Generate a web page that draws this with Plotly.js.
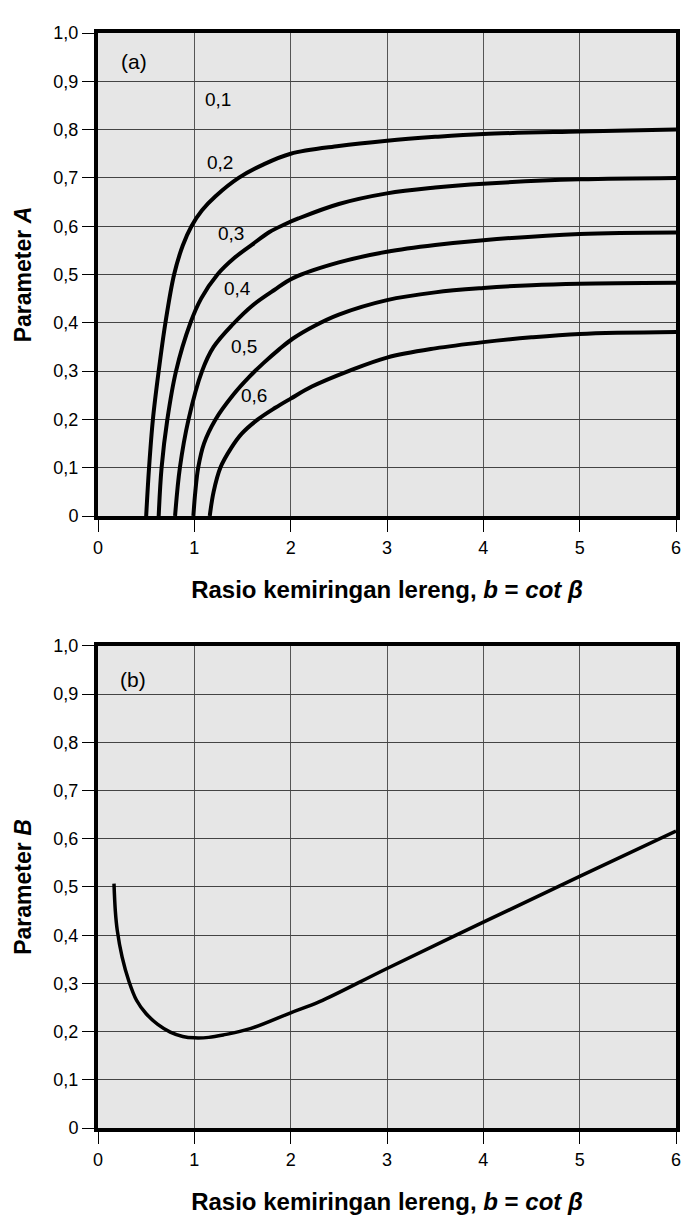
<!DOCTYPE html>
<html><head><meta charset="utf-8">
<script src="https://cdn.plot.ly/plotly-3.0.1.min.js"></script>
<style>html,body{margin:0;padding:0;background:#fff}</style>
</head><body><div id="chart" style="width:683px;height:1217px"></div>
<script>
// ---- Data (panel a: Parameter A vs b = cot beta, one curve per r_u) ----
const curveLabels = ["0,2", "0,3", "0,4", "0,5", "0,6"];
const a02_x = [0.50, 0.53, 0.57, 0.63, 0.70, 0.79, 0.88, 0.97, 1.08, 1.22, 1.46, 1.72, 2.00, 2.50, 3.00, 3.50, 4.00, 5.00, 6.00];
const a02_y = [0.00, 0.10, 0.20, 0.30, 0.40, 0.50, 0.56, 0.60, 0.633, 0.662, 0.700, 0.728, 0.750, 0.766, 0.777, 0.785, 0.791, 0.796, 0.800];
const a03_x = [0.63, 0.66, 0.72, 0.81, 0.96, 1.07, 1.24, 1.42, 1.60, 1.78, 1.94, 2.08, 2.50, 3.00, 3.50, 4.00, 5.00, 6.00];
const a03_y = [0.00, 0.10, 0.20, 0.30, 0.40, 0.45, 0.50, 0.535, 0.562, 0.588, 0.604, 0.616, 0.646, 0.668, 0.680, 0.688, 0.697, 0.700];
const a04_x = [0.80, 0.85, 0.94, 1.08, 1.20, 1.40, 1.61, 1.83, 2.03, 2.50, 3.00, 3.50, 4.00, 5.00, 6.00];
const a04_y = [0.00, 0.10, 0.20, 0.30, 0.35, 0.397, 0.437, 0.468, 0.493, 0.525, 0.547, 0.561, 0.571, 0.584, 0.587];
const a05_x = [0.99, 1.01, 1.04, 1.10, 1.22, 1.40, 1.57, 1.72, 1.88, 2.02, 2.25, 2.50, 3.00, 3.50, 4.00, 4.50, 5.00, 6.00];
const a05_y = [0.00, 0.05, 0.10, 0.15, 0.20, 0.25, 0.288, 0.317, 0.345, 0.367, 0.394, 0.417, 0.447, 0.463, 0.472, 0.478, 0.481, 0.483];
const a06_x = [1.16, 1.20, 1.27, 1.38, 1.49, 1.66, 1.84, 2.00, 2.22, 2.60, 3.00, 3.50, 4.00, 4.50, 5.00, 6.00];
const a06_y = [0.00, 0.05, 0.10, 0.14, 0.17, 0.20, 0.224, 0.243, 0.268, 0.300, 0.328, 0.347, 0.360, 0.370, 0.377, 0.381];
// label anchor points for the curve labels
const labelX = [1.27, 1.38, 1.45, 1.52, 1.62];
const labelY = [0.731, 0.585, 0.470, 0.350, 0.250];

// ---- Data (panel b: Parameter B vs b) ----
const b_x = [0.166, 0.18, 0.20, 0.25, 0.32, 0.40, 0.50, 0.62, 0.75, 0.88, 1.00, 1.15, 1.30, 1.58, 2.00, 2.30, 3.00, 4.00, 5.00, 6.00];
const b_y = [0.507, 0.450, 0.410, 0.355, 0.305, 0.265, 0.237, 0.215, 0.199, 0.190, 0.187, 0.188, 0.193, 0.206, 0.239, 0.262, 0.331, 0.427, 0.522, 0.616];

// ---- Tick labels ----
const xTickVals = [0, 1, 2, 3, 4, 5, 6];
const xTickText = ["0", "1", "2", "3", "4", "5", "6"];
const yTickVals = [0, 0.1, 0.2, 0.3, 0.4, 0.5, 0.6, 0.7, 0.8, 0.9, 1.0];
const yTickText = ["0", "0,1", "0,2", "0,3", "0,4", "0,5", "0,6", "0,7", "0,8", "0,9", "1,0"];

const FONT = "Arial, 'Liberation Sans', sans-serif";
const seriesA = [[a02_x, a02_y], [a03_x, a03_y], [a04_x, a04_y], [a05_x, a05_y], [a06_x, a06_y]];

const traces = seriesA.map((s, i) => ({
  x: s[0], y: s[1], type: 'scatter', mode: 'lines', name: 'r_u = ' + curveLabels[i],
  line: {color: '#000', width: 4, shape: 'spline', smoothing: 1.0},
  xaxis: 'x', yaxis: 'y', showlegend: false
}));
traces.push({
  x: b_x, y: b_y, type: 'scatter', mode: 'lines', name: 'B',
  line: {color: '#000', width: 3.5, shape: 'spline', smoothing: 1.0},
  xaxis: 'x2', yaxis: 'y2', showlegend: false
});

const titleX = '<b>Rasio kemiringan lereng, <i>b</i> = <i>cot β</i></b>';

function xa(anchor) {
  return {
    anchor: anchor, domain: [0, 1], range: [0, 6], tickvals: xTickVals, ticktext: xTickText,
    ticks: 'outside', ticklen: 12, tickwidth: 1, tickcolor: '#000',
    showgrid: true, gridcolor: '#555', gridwidth: 1,
    showline: true, linewidth: 4, linecolor: '#000', mirror: true, zeroline: false,
    tickfont: {family: FONT, size: 18, color: '#000'},
    title: {text: titleX, font: {family: FONT, size: 24, color: '#000'}, standoff: 26},
    fixedrange: true
  };
}
function ya(anchor, dom, txt) {
  return {
    anchor: anchor, domain: dom, range: [0, 1], tickvals: yTickVals, ticktext: yTickText,
    ticks: 'outside', ticklen: 12, tickwidth: 1, tickcolor: '#000',
    showgrid: true, gridcolor: '#444', gridwidth: 1,
    showline: true, linewidth: 4, linecolor: '#000', mirror: true, zeroline: false,
    tickfont: {family: FONT, size: 18, color: '#000'},
    title: {text: txt, font: {family: FONT, size: 23, color: '#000'}, standoff: 16},
    fixedrange: true
  };
}

const annotations = curveLabels.map((t, i) => ({
  x: labelX[i], y: labelY[i], xref: 'x', yref: 'y', text: t, showarrow: false,
  font: {family: FONT, size: 19, color: '#000'}
}));
annotations.push({x: 1.25, y: 0.863, xref: 'x', yref: 'y', text: '0,1', showarrow: false,
  font: {family: FONT, size: 19, color: '#000'}});
annotations.push({x: 1.42, y: 1.04, xref: 'x', yref: 'y', text: 'r<sub>u</sub> = 0', showarrow: false,
  font: {family: FONT, size: 18, color: '#000'}});
annotations.push({x: 0.37, y: 0.94, xref: 'x', yref: 'y', text: '(a)', showarrow: false,
  font: {family: FONT, size: 21, color: '#000'}});
annotations.push({x: 0.36, y: 0.93, xref: 'x2', yref: 'y2', text: '(b)', showarrow: false,
  font: {family: FONT, size: 21, color: '#000'}});

const layout = {
  width: 683, height: 1217,
  margin: {l: 98, r: 7, t: 33, b: 89},
  paper_bgcolor: '#fff', plot_bgcolor: '#e6e6e6',
  font: {family: FONT, color: '#000'},
  xaxis: xa('y'), yaxis: ya('x', [0.5589, 1], '<b>Parameter <i>A</i></b>'),
  xaxis2: xa('y2'), yaxis2: ya('x2', [0, 0.4402], '<b>Parameter <i>B</i></b>'),
  annotations: annotations,
  showlegend: false
};

Plotly.newPlot('chart', traces, layout, {displayModeBar: false, staticPlot: true});
</script></body></html>
